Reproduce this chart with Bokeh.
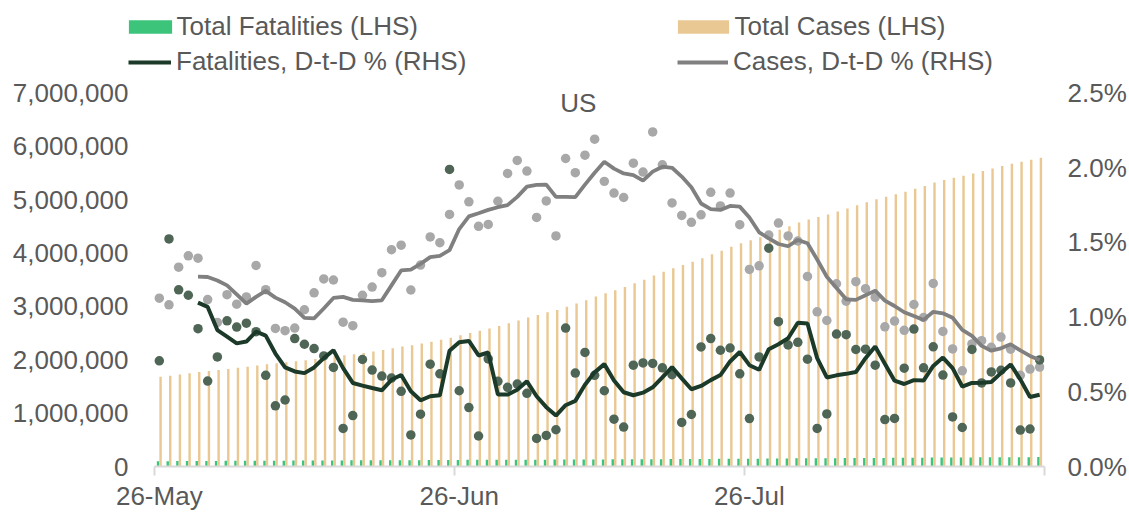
from bokeh.plotting import figure
from bokeh.models import (Range1d, LinearAxis, FixedTicker, NumeralTickFormatter,
                          PrintfTickFormatter, Legend, LegendItem, Label, ColumnDataSource)
from bokeh.embed import file_html
from bokeh.resources import INLINE

# ---------------- data ----------------
tick_labels = ["26-May", "26-Jun", "26-Jul"]
tick_days = [0, 31, 61]

# Total cases (thousands), 26-May .. 25-Aug
total_cases_k = [
    1681, 1699, 1722, 1746, 1770, 1790, 1807, 1828, 1848, 1869,
    1894, 1916, 1934, 1952, 1970, 1991, 2014, 2039, 2064, 2084,
    2104, 2128, 2154, 2182, 2214, 2247, 2273, 2304, 2339, 2374,
    2414, 2460, 2503, 2544, 2585, 2631, 2682, 2737, 2791, 2838,
    2888, 2933, 2993, 3052, 3116, 3184, 3245, 3304, 3364, 3432,
    3500, 3578, 3650, 3714, 3777, 3838, 3903, 3975, 4044, 4118,
    4185, 4240, 4297, 4363, 4434, 4503, 4571, 4629, 4677, 4723,
    4780, 4833, 4893, 4951, 5007, 5054, 5103, 5150, 5206, 5258,
    5322, 5370, 5412, 5447, 5492, 5538, 5582, 5630, 5674, 5709,
    5746, 5784]

# Total fatalities (thousands)
total_fat_k = [
    98.2, 99.7, 100.9, 102.1, 103.0, 103.6, 104.4, 105.4, 106.4, 107.4,
    108.4, 109.0, 109.5, 110.0, 110.9, 111.8, 112.7, 113.5, 114.3, 114.6,
    115.0, 115.8, 116.5, 117.2, 117.9, 118.5, 118.8, 119.2, 120.0, 120.8,
    123.2, 123.8, 124.3, 124.5, 125.4, 126.1, 126.8, 127.5, 128.1, 128.4,
    128.7, 129.0, 130.2, 131.0, 132.0, 132.8, 133.5, 133.9, 134.3, 135.2,
    136.1, 137.1, 138.0, 138.8, 139.2, 139.7, 140.8, 142.0, 143.1, 144.3,
    145.2, 145.6, 146.7, 148.8, 150.3, 151.5, 152.8, 153.9, 154.3, 154.8,
    156.2, 157.5, 158.8, 160.0, 161.1, 161.6, 162.1, 163.2, 164.7, 165.8,
    167.1, 168.1, 168.7, 169.1, 170.4, 171.4, 172.5, 173.6, 174.5, 175.0,
    175.4, 176.7]

# Daily % change of cases (dots)
cases_pct = [
    1.126, 1.082, 1.334, 1.410, 1.394, 1.117, 0.964, 1.150, 1.086, 1.135,
    1.345, 1.183, 0.924, 0.909, 0.926, 1.049, 1.162, 1.255, 1.248, 0.966,
    0.942, 1.146, 1.201, 1.297, 1.451, 1.481, 1.181, 1.348, 1.536, 1.498,
    1.687, 1.884, 1.771, 1.607, 1.620, 1.775, 1.961, 2.048, 1.977, 1.667,
    1.777, 1.543, 2.061, 1.966, 2.083, 2.190, 1.908, 1.830, 1.800, 2.030,
    1.970, 2.239, 2.019, 1.764, 1.680, 1.634, 1.684, 1.835, 1.744, 1.830,
    1.618, 1.319, 1.343, 1.549, 1.629, 1.543, 1.509, 1.272, 1.035, 0.977,
    1.223, 1.106, 1.237, 1.190, 1.132, 0.935, 0.973, 0.911, 1.084, 0.997,
    1.225, 0.904, 0.787, 0.640, 0.820, 0.842, 0.798, 0.866, 0.785, 0.610,
    0.652, 0.665]

# Daily % change of fatalities (dots)
fat_pct = [
    0.707, 1.523, 1.182, 1.146, 0.922, 0.572, 0.733, 0.975, 0.933, 0.959,
    0.902, 0.610, 0.406, 0.445, 0.856, 0.818, 0.789, 0.740, 0.663, 0.255,
    0.341, 0.716, 0.645, 0.605, 0.592, 0.503, 0.211, 0.350, 0.685, 0.620,
    1.988, 0.507, 0.394, 0.204, 0.720, 0.570, 0.530, 0.552, 0.490, 0.188,
    0.208, 0.246, 0.926, 0.625, 0.763, 0.610, 0.507, 0.317, 0.264, 0.678,
    0.693, 0.690, 0.660, 0.614, 0.295, 0.348, 0.800, 0.856, 0.778, 0.793,
    0.620, 0.321, 0.733, 1.461, 0.969, 0.813, 0.831, 0.718, 0.255, 0.352,
    0.886, 0.882, 0.783, 0.785, 0.678, 0.314, 0.322, 0.658, 0.920, 0.660,
    0.801, 0.612, 0.332, 0.261, 0.783, 0.559, 0.633, 0.644, 0.559, 0.244,
    0.251, 0.713]

# Smoothed lines (start on day 4)
line_start = 4
cases_line = [
    1.270, 1.268, 1.245, 1.212, 1.152, 1.090, 1.135, 1.175, 1.130, 1.099,
    1.057, 0.995, 0.991, 1.057, 1.128, 1.135, 1.115, 1.112, 1.106, 1.112,
    1.212, 1.312, 1.318, 1.356, 1.401, 1.410, 1.448, 1.589, 1.674, 1.695,
    1.717, 1.735, 1.749, 1.804, 1.873, 1.884, 1.886, 1.804, 1.804, 1.802,
    1.886, 1.966, 2.039, 1.993, 1.961, 1.950, 1.913, 1.973, 2.006, 1.999,
    1.940, 1.868, 1.760, 1.722, 1.717, 1.744, 1.739, 1.666, 1.567, 1.527,
    1.489, 1.474, 1.516, 1.494, 1.385, 1.270, 1.195, 1.119, 1.115, 1.146,
    1.177, 1.110, 1.074, 1.032, 1.007, 0.981, 1.035, 1.025, 0.995, 0.914,
    0.874, 0.807, 0.775, 0.791, 0.818, 0.777, 0.740, 0.713]
fat_line = [
    1.097, 1.068, 0.913, 0.869, 0.824, 0.836, 0.902, 0.876, 0.756, 0.663,
    0.636, 0.625, 0.663, 0.725, 0.778, 0.658, 0.559, 0.541, 0.525, 0.510,
    0.580, 0.612, 0.503, 0.443, 0.470, 0.477, 0.775, 0.831, 0.840, 0.743,
    0.763, 0.481, 0.481, 0.514, 0.570, 0.470, 0.397, 0.341, 0.410, 0.439,
    0.547, 0.630, 0.685, 0.576, 0.497, 0.477, 0.494, 0.530, 0.596, 0.665,
    0.590, 0.517, 0.539, 0.578, 0.612, 0.703, 0.766, 0.678, 0.647, 0.785,
    0.818, 0.858, 0.962, 0.957, 0.725, 0.596, 0.610, 0.620, 0.632, 0.725,
    0.803, 0.687, 0.574, 0.552, 0.578, 0.575, 0.673, 0.729, 0.658, 0.535,
    0.559, 0.560, 0.565, 0.625, 0.683, 0.583, 0.465, 0.480]

# ---------------- styling / layout ----------------
FONT = "Liberation Sans"
TXT = "#595959"
FS = "26px"
GREEN = "#3CC47B"
TAN = "#EAC893"
DARK = "#1C3A29"
DARK_DOT = "#4F6656"
GRAY = "#808080"
GRAY_DOT = "#A8A8A8"

W, H = 1129, 513
FRAME_L, FRAME_R = 128, 1045     # frame edges (px)
DAYS_L = 154                     # px where the first day's slot begins
FRAME_B = 469                    # px of the x axis
TOP_TICK = 93                    # px of 7,000,000 / 2.5%

n = len(total_cases_k)
px_day = (FRAME_R - DAYS_L) / n
x_start = -0.5 - (DAYS_L - FRAME_L) / px_day
scale = FRAME_B / (FRAME_B - TOP_TICK)

days = list(range(n))
src = ColumnDataSource(dict(
    x_f=[d - 0.13 for d in days],
    x_c=[d + 0.13 for d in days],
    x=days,
    cases=[v * 1000 for v in total_cases_k],
    fat=[v * 1000 for v in total_fat_k],
    cpct=cases_pct,
    fpct=fat_pct,
))
lx = list(range(line_start, line_start + len(cases_line)))
lsrc = ColumnDataSource(dict(x=lx, c=cases_line, f=fat_line))

p = figure(width=W, height=H, output_backend="svg", toolbar_location=None,
           title_location=None,
           x_range=Range1d(x_start, n - 0.5),
           y_range=Range1d(0, 7_000_000 * scale),
           min_border_left=FRAME_L, min_border_right=W - FRAME_R, min_border_top=0,
           min_border_bottom=H - FRAME_B)
p.outline_line_color = None
p.xgrid.visible = False
p.ygrid.visible = False
p.background_fill_color = "white"
p.border_fill_color = "white"
p.extra_y_ranges = {"pct": Range1d(0, 2.5 * scale)}

bar_f = p.vbar(x="x_f", top="fat", width=0.25, source=src, color=GREEN, line_color=None)
bar_c = p.vbar(x="x_c", top="cases", width=0.25, source=src, color=TAN, line_color=None)

p.scatter(x="x", y="cpct", source=src, y_range_name="pct", size=9.5,
          fill_color=GRAY_DOT, line_color=None)
p.scatter(x="x", y="fpct", source=src, y_range_name="pct", size=9.5,
          fill_color=DARK_DOT, line_color=None)

ln_c = p.line(x="x", y="c", source=lsrc, y_range_name="pct", line_color=GRAY, line_width=3.8)
ln_f = p.line(x="x", y="f", source=lsrc, y_range_name="pct", line_color=DARK, line_width=4)

# x axis
xa = p.xaxis[0]
xa.bounds = (-0.5, n - 0.5)
xa.ticker = FixedTicker(ticks=tick_days,
                        minor_ticks=[-0.5, 30.5, 60.5, n - 0.5])
xa.major_label_overrides = {d: l for d, l in zip(tick_days, tick_labels)}
xa.major_tick_line_color = None
xa.major_tick_out = 0
xa.major_tick_in = 0
xa.minor_tick_line_color = "#D9D9D9"
xa.minor_tick_line_width = 2
xa.minor_tick_out = 9
xa.minor_tick_in = 0
xa.axis_line_color = "#D9D9D9"
xa.axis_line_width = 2
xa.major_label_standoff = 5
xa.major_label_text_font = FONT
xa.major_label_text_font_size = FS
xa.major_label_text_color = TXT

# left axis
ya = p.yaxis[0]
ya.ticker = FixedTicker(ticks=[i * 1_000_000 for i in range(8)])
ya.formatter = NumeralTickFormatter(format="0,0")
ya.axis_line_color = None
ya.major_tick_line_color = None
ya.minor_tick_line_color = None
ya.major_tick_out = 0
ya.major_label_standoff = 0
ya.major_label_text_font = FONT
ya.major_label_text_font_size = FS
ya.major_label_text_color = TXT

# right axis
ra = LinearAxis(y_range_name="pct", ticker=FixedTicker(ticks=[0, 0.5, 1.0, 1.5, 2.0, 2.5]),
                formatter=PrintfTickFormatter(format="%.1f%%"))
ra.axis_line_color = None
ra.major_tick_line_color = None
ra.minor_tick_line_color = None
ra.major_tick_out = 0
ra.major_label_standoff = 23
ra.major_label_text_font = FONT
ra.major_label_text_font_size = FS
ra.major_label_text_color = TXT
p.add_layout(ra, "right")

# title inside plot
p.add_layout(Label(x=43.3, y=6_810_000, text="US", text_align="center",
                   text_baseline="middle", text_font=FONT, text_font_size=FS,
                   text_color=TXT))

# legends: one single-item legend per entry (2 x 2 grid)
ROW_H = 35
ROW1_BOTTOM = 82 - ROW_H   # px from the top
ROW2_BOTTOM = 82

def make_legend(item, vx, vy_top_px, gw, gh, standoff):
    return Legend(items=[item], location=(vx, FRAME_B - vy_top_px),
                  orientation="vertical",
                  glyph_width=gw, glyph_height=gh, label_standoff=standoff, spacing=0,
                  label_height=ROW_H, padding=0, margin=0, border_line_color=None,
                  background_fill_alpha=0, label_text_font=FONT,
                  label_text_font_size=FS, label_text_color=TXT)

legends = [
    make_legend(LegendItem(label="Total Fatalities (LHS)", renderers=[bar_f]),
                -5.4, ROW1_BOTTOM, 54, 17, 0),
    make_legend(LegendItem(label="Fatalities, D-t-D % (RHS)", renderers=[ln_f]),
                0, ROW2_BOTTOM, 43, 14, 5),
    make_legend(LegendItem(label="Total Cases (LHS)", renderers=[bar_c]),
                670.5 - FRAME_L, ROW1_BOTTOM, 64, 17, 0),
    make_legend(LegendItem(label="Cases, D-t-D % (RHS)", renderers=[ln_c]),
                677 - FRAME_L, ROW2_BOTTOM, 51, 14, 5),
]
for lg in legends:
    p.add_layout(lg, "center")

open("out.html", "w").write(file_html(p, INLINE))
